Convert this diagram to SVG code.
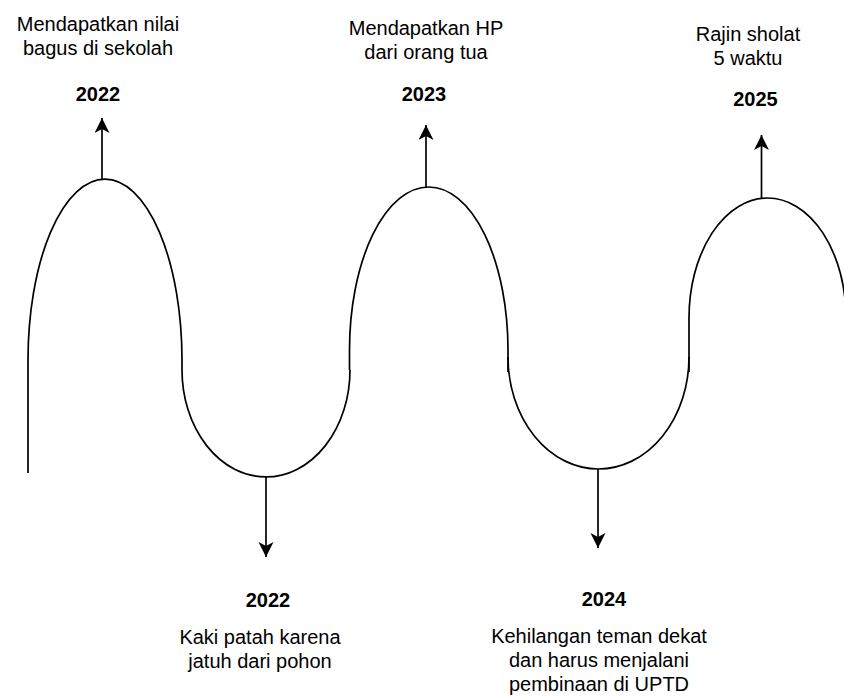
<svg xmlns="http://www.w3.org/2000/svg" width="844" height="696" viewBox="0 0 844 696">
<style>
.wave{fill:none;stroke:#000;stroke-width:1.7}
.conn{fill:none;stroke:#000;stroke-width:1.7}
.lbl{font-family:"Liberation Sans",Arial,sans-serif;font-size:20px;fill:#000;text-anchor:middle}
.yr{font-family:"Liberation Sans",Arial,sans-serif;font-size:20px;font-weight:bold;fill:#000;text-anchor:middle}
</style>
<defs>
<marker id="ah" markerUnits="userSpaceOnUse" markerWidth="16" markerHeight="16" viewBox="0 0 16 16" refX="15" refY="7.5" orient="auto">
<path d="M0,0 L15,7.5 L0,15 L4,7.5 Z" fill="#000"/>
</marker>
</defs>
<rect width="844" height="696" fill="#fff"/>
<g id="wave">
<path class="wave" d="M28,473 L28,360 A77,181 0 0 1 182,360 L182,370"/>
<path class="wave" d="M182,370 A84,107 0 0 0 350,370"/>
<path class="wave" d="M349.5,370 L349.5,350 A79.25,163 0 0 1 508,350 L508,372"/>
<path class="wave" d="M508,357 A90.5,112 0 0 0 689,357"/>
<path class="wave" d="M689,372 L689,318 A78.5,120 0 0 1 846,318 L846,372"/>
</g>
<g id="connectors">
<line class="conn" x1="102" y1="179" x2="102" y2="118" marker-end="url(#ah)"/>
<line class="conn" x1="426" y1="187" x2="426" y2="125" marker-end="url(#ah)"/>
<line class="conn" x1="761.5" y1="198" x2="761.5" y2="135" marker-end="url(#ah)"/>
<line class="conn" x1="266" y1="477" x2="266" y2="557" marker-end="url(#ah)"/>
<line class="conn" x1="598" y1="469" x2="598" y2="548" marker-end="url(#ah)"/>
</g>
<g id="event-2022-top">
<text class="lbl" x="98" y="31">Mendapatkan nilai</text>
<text class="lbl" x="98" y="55">bagus di sekolah</text>
<text class="yr" x="98" y="101">2022</text>
</g>
<g id="event-2023">
<text class="lbl" x="426" y="35">Mendapatkan HP</text>
<text class="lbl" x="426" y="59">dari orang tua</text>
<text class="yr" x="424" y="101">2023</text>
</g>
<g id="event-2025">
<text class="lbl" x="748" y="41">Rajin sholat</text>
<text class="lbl" x="748" y="65">5 waktu</text>
<text class="yr" x="755.5" y="106">2025</text>
</g>
<g id="event-2022-bottom">
<text class="yr" x="268" y="607">2022</text>
<text class="lbl" x="260" y="644">Kaki patah karena</text>
<text class="lbl" x="260" y="668">jatuh dari pohon</text>
</g>
<g id="event-2024">
<text class="yr" x="604" y="606">2024</text>
<text class="lbl" x="599" y="643">Kehilangan teman dekat</text>
<text class="lbl" x="599" y="667">dan harus menjalani</text>
<text class="lbl" x="599" y="691">pembinaan di UPTD</text>
</g>
</svg>
